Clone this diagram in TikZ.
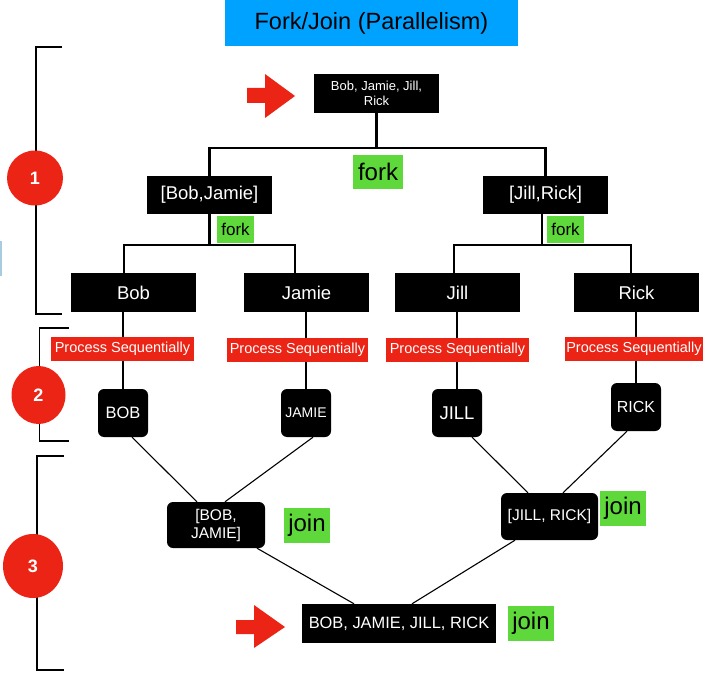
\documentclass[tikz,border=0pt]{standalone}
\usepackage{fontspec}
\setmainfont{Liberation Sans}
\usetikzlibrary{shapes.geometric}
\definecolor{tblue}{HTML}{00A2FF}
\definecolor{tred}{HTML}{EC2415}
\definecolor{tgreen}{HTML}{5ED83A}
\definecolor{lblue}{HTML}{A9CBE0}
\newcommand{\fsz}[2]{\fontsize{#1}{#2}\selectfont}
\tikzset{
  blk/.style={fill=black, text=white, inner sep=0pt, align=center},
  rblk/.style={blk, rounded corners=6pt},
  grn/.style={fill=tgreen, text=black, inner sep=0pt},
  psbox/.style={fill=tred, text=white, inner sep=0pt, minimum height=24pt, font=\fsz{14.5}{16}},
  tree/.style={line width=2.6pt},
  thinl/.style={line width=1.1pt},
  brk/.style={line width=1.4pt},
  num/.style={ellipse, fill=tred, text=white, inner sep=0pt, font=\fsz{18}{20}\bfseries},
  lvl/.style={blk, minimum width=125pt, minimum height=39pt, font=\fsz{18.5}{20}},
  sq/.style={rblk, minimum width=50pt, minimum height=48pt},
  joinlbl/.style={grn, minimum width=46pt, minimum height=35pt, font=\fsz{24}{26}},
  smallfork/.style={grn, minimum width=37pt, minimum height=27pt, font=\fsz{17}{19}},
}
\begin{document}
\begin{tikzpicture}[x=1pt,y=-1pt]
\useasboundingbox (0,0) rectangle (717,676);
% title
\node[fill=tblue, text=black, inner sep=0pt, minimum width=293pt, minimum height=46pt, font=\fsz{23.5}{26}] (title) at (371.5,23) {Fork/Join (Parallelism)};
% light blue mark
\fill[lblue] (0,241) rectangle (1.8,276);
% red arrows
\fill[tred] (247,88) -- (265,88) -- (265,74) -- (295,96) -- (265,118) -- (265,103) -- (247,103) -- cycle;
\fill[tred] (236,620) -- (254,620) -- (254,605) -- (285,627) -- (254,648) -- (254,634) -- (236,634) -- cycle;
% brackets
\draw[brk] (62,47) -- (36,47) -- (36,314) -- (62,314);
\draw[brk] (69,328) -- (39.5,328) -- (39.5,441) -- (69,441);
\draw[brk] (64,456) -- (37,456) -- (37,670) -- (64,670);
% numbered circles
\node[num, minimum width=56pt, minimum height=55pt] (c1) at (35,178) {1};
\node[num, minimum width=54pt, minimum height=58pt] (c2) at (38.5,395) {2};
\node[num, minimum width=60pt, minimum height=64pt] (c3) at (33,566) {3};
% boxes
\node[blk, minimum width=125pt, minimum height=39pt, font=\fsz{13}{15}] (top) at (376.5,93.5) {Bob, Jamie, Jill,\\Rick};
\node[lvl, minimum height=38pt] (bj) at (209.5,195) {[Bob,Jamie]};
\node[lvl, minimum height=38pt] (jr) at (545.5,195) {[Jill,Rick]};
\node[lvl] (bob) at (133.5,292.5) {Bob};
\node[lvl] (jamie) at (306.5,292.5) {Jamie};
\node[lvl] (jill) at (457.5,292.5) {Jill};
\node[lvl] (rick) at (636.5,292.5) {Rick};
\node[sq, font=\fsz{16.5}{18}] (BOBn) at (123,413) {BOB};
\node[sq, font=\fsz{14}{16}] (JAMIEn) at (306,413) {JAMIE};
\node[sq, font=\fsz{18.5}{20}] (JILLn) at (457,413) {JILL};
\node[sq, font=\fsz{16}{18}] (RICKn) at (636,407) {RICK};
\node[rblk, minimum width=98pt, minimum height=46pt, font=\fsz{15.5}{18}] (bj2) at (216,525) {[BOB,\\JAMIE]};
\node[rblk, minimum width=97pt, minimum height=47pt, font=\fsz{15.5}{18}] (jr2) at (549.5,516.5) {[JILL, RICK]};
\node[blk, minimum width=194pt, minimum height=39pt, font=\fsz{16.4}{18}] (final) at (399,623.5) {BOB, JAMIE, JILL, RICK};
% fork lines
\coordinate (f1) at (376,148);
\draw[tree] (top.south) -- (top.south |- f1);
\draw[tree] (bj.north) -- (bj.north |- f1) -- (jr.north |- f1) -- (jr.north);
\coordinate (f2L) at (124,245);
\coordinate (f2R) at (295,245);
\coordinate (f3L) at (454,245);
\coordinate (f3M) at (542,245);
\coordinate (f3R) at (631,245);
\draw[tree] (bj.south) -- (bj.south |- f2L);
\draw[tree] (bob.north -| f2L) -- (f2L) -- (f2R) -- (jamie.north -| f2R);
\draw[tree] (jr.south -| f3M) -- (f3M);
\draw[tree] (jill.north -| f3L) -- (f3L) -- (f3R) -- (rick.north -| f3R);
% sequential lines
\draw[tree] (bob.south -| BOBn) -- (BOBn.north);
\draw[tree] (jamie.south -| JAMIEn) -- (JAMIEn.north);
\draw[tree] (jill.south -| JILLn) -- (JILLn.north);
\draw[tree] (rick.south -| RICKn) -- (RICKn.north);
% join lines
\draw[thinl] ([xshift=9pt]BOBn.south) -- ([xshift=-19pt]bj2.north);
\draw[thinl] ([xshift=7pt]JAMIEn.south) -- ([xshift=9pt]bj2.north);
\draw[thinl] ([xshift=15pt]JILLn.south) -- ([xshift=-21.5pt]jr2.north);
\draw[thinl] ([xshift=-9pt]RICKn.south) -- ([xshift=13.5pt]jr2.north);
\draw[thinl] ([xshift=41pt]bj2.south) -- ([xshift=-45pt]final.north);
\draw[thinl] ([xshift=-34.5pt]jr2.south) -- ([xshift=13pt]final.north);
% process sequentially labels
\node[psbox, minimum width=143pt] (ps1) at (122.5,349) {Process Sequentially};
\node[psbox, minimum width=141pt] (ps2) at (297.5,349.5) {Process Sequentially};
\node[psbox, minimum width=143pt] (ps3) at (457.5,350) {Process Sequentially};
\node[psbox, minimum width=138pt] (ps4) at (634,349) {Process Sequentially};
% green labels
\node[grn, minimum width=50pt, minimum height=34pt, font=\fsz{24}{26}] (fork1) at (378,172) {fork};
\node[smallfork] (fork2) at (235.5,229.5) {fork};
\node[smallfork] (fork3) at (565.5,229.5) {fork};
\node[joinlbl] (join1) at (307,525.5) {join};
\node[joinlbl] (join2) at (623,508.5) {join};
\node[joinlbl] (join3) at (531,623.5) {join};
\end{tikzpicture}
\end{document}
